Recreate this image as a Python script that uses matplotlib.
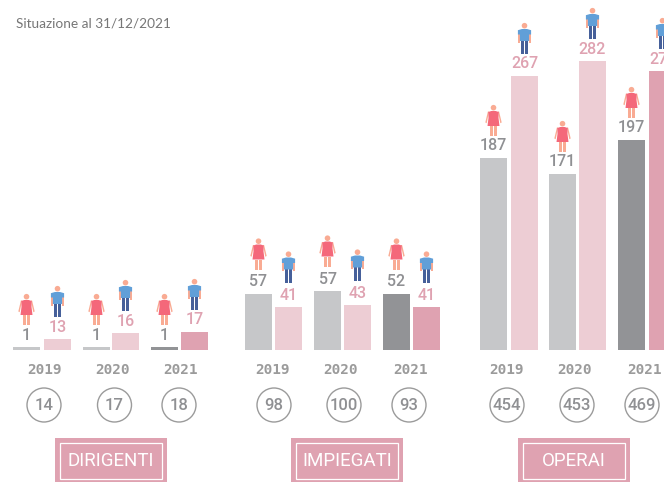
import matplotlib
matplotlib.use('Agg')
import matplotlib.pyplot as plt
from matplotlib.patches import Rectangle, Circle, Polygon

# Dati
anni = ['2019', '2020', '2021']
categorie = ['DIRIGENTI', 'IMPIEGATI', 'OPERAI']
donne = [[1, 1, 1], [57, 57, 52], [187, 171, 197]]
uomini = [[13, 16, 17], [41, 43, 41], [267, 282, 272]]
totali = [[14, 17, 18], [98, 100, 93], [454, 453, 469]]
# altezze delle barre come appaiono nel grafico
barre_donne = [[3, 3, 3], [56, 59, 56], [192, 176, 210]]
barre_uomini = [[11, 17, 18], [43, 45, 43], [274, 289, 279]]

GRIGIO_CHIARO = '#c6c7c9'
GRIGIO_SCURO = '#929396'
ROSA_CHIARO = '#edcdd4'
ROSA = '#dfa2b1'
TESTO = '#8f9093'
PELLE = '#f9ab93'
VESTITO = '#f4687a'
MAGLIA = '#619fd8'
PANTALONI = '#46609a'
FONT_NUM = 'Roboto'
FONT_ANNI = 'DejaVu Sans Mono'

# Posizioni in pixel del layout
x_donne = [[13, 83, 151], [245, 314, 383], [480, 549, 618]]
x_uomini = [[44, 112, 181], [275, 344, 413], [511, 579, 649]]
x_anni = [[44, 113, 181], [272, 341, 410], [507, 575, 644]]
x_cerchi = [[44, 114.5, 179], [274, 344, 409], [507, 577, 642]]
x_box = [55, 291, 518]
offset_icona = [53, 55.5, 53]
LARGH = 27
BASE = 350

fig = plt.figure(figsize=(6.64, 4.82), dpi=100, facecolor='white')
ax = fig.add_axes([0, 0, 1, 1])
ax.set_xlim(0, 664)
ax.set_ylim(482, 0)
ax.axis('off')


def poligono(cx, top, punti, colore):
    ax.add_patch(Polygon([(cx + px, top + py) for px, py in punti], closed=True,
                         facecolor=colore, edgecolor='none'))


def donna(cx, top):
    ax.add_patch(Circle((cx, top + 2.7), 2.8, facecolor=PELLE, edgecolor='none'))
    for s in (-1, 1):
        poligono(cx, top, [(s * 4.4, 6.5), (s * 5.6, 6.5), (s * 8.2, 17.5), (s * 6.8, 18.2)], PELLE)
        poligono(cx, top, [(s * 0.7, 21), (s * 3.5, 21), (s * 3.5, 31), (s * 0.7, 31)], PELLE)
    poligono(cx, top, [(-2.2, 6), (2.2, 6), (5.2, 7), (5, 13), (6, 21), (-6, 21), (-5, 13), (-5.2, 7)], VESTITO)


def uomo(cx, top):
    ax.add_patch(Circle((cx, top + 2.7), 2.8, facecolor=PELLE, edgecolor='none'))
    for s in (-1, 1):
        poligono(cx, top, [(s * 4.6, 9), (s * 6.6, 9), (s * 6.6, 19.5), (s * 4.6, 19.5)], PELLE)
        poligono(cx, top, [(s * 0.4, 17), (s * 3.6, 17), (s * 3.6, 31), (s * 0.4, 31)], PANTALONI)
    poligono(cx, top, [(-2.5, 6), (2.5, 6), (6.6, 7.2), (6.6, 11.5), (4.6, 11.5), (4.6, 18), (-4.6, 18),
                       (-4.6, 11.5), (-6.6, 11.5), (-6.6, 7.2)], MAGLIA)


ax.text(16, 24, 'Situazione al 31/12/2021', fontsize=9.8, family='Lato', color='#777777',
        ha='left', va='center')

for g, categoria in enumerate(categorie):
    for i, anno in enumerate(anni):
        xd = x_donne[g][i]
        xu = x_uomini[g][i]
        cd = GRIGIO_SCURO if i == 2 else GRIGIO_CHIARO
        cu = ROSA if i == 2 else ROSA_CHIARO
        ax.bar(xd, -barre_donne[g][i], LARGH, bottom=BASE, align='edge', color=cd)
        ax.bar(xu, -barre_uomini[g][i], LARGH, bottom=BASE, align='edge', color=cu)

        top_d = BASE - barre_donne[g][i]
        top_u = BASE - barre_uomini[g][i]
        ax.text(xd + LARGH / 2, top_d - 12, str(donne[g][i]), family=FONT_NUM, fontsize=11.5,
                color=TESTO, ha='center', va='center', fontweight='medium')
        ax.text(xu + LARGH / 2, top_u - 12, str(uomini[g][i]), family=FONT_NUM, fontsize=11.5,
                color=ROSA, ha='center', va='center', fontweight='medium')
        donna(xd + LARGH / 2, top_d - offset_icona[g])
        uomo(xu + LARGH / 2, top_u - offset_icona[g])

        ax.text(x_anni[g][i], 370, anno, family=FONT_ANNI, fontweight='bold', fontsize=10.4,
                color='#9b9b9b', ha='center', va='center')
        ax.add_patch(Circle((x_cerchi[g][i], 405), 17, facecolor='white', edgecolor='#9b9b9b', linewidth=1))
        ax.text(x_cerchi[g][i], 405, str(totali[g][i]), family=FONT_NUM, fontsize=12,
                color=TESTO, ha='center', va='center', fontweight='medium')

    ax.add_patch(Rectangle((x_box[g], 438), 112, 44, facecolor=ROSA, edgecolor='none'))
    ax.add_patch(Rectangle((x_box[g] + 5, 443), 102, 36, facecolor='none', edgecolor='white', linewidth=0.9))
    ax.text(x_box[g] + 56, 461, categoria, family=FONT_NUM, fontsize=13.5,
            color='white', ha='center', va='center')

fig.savefig('out.png', dpi=100, facecolor='white')
